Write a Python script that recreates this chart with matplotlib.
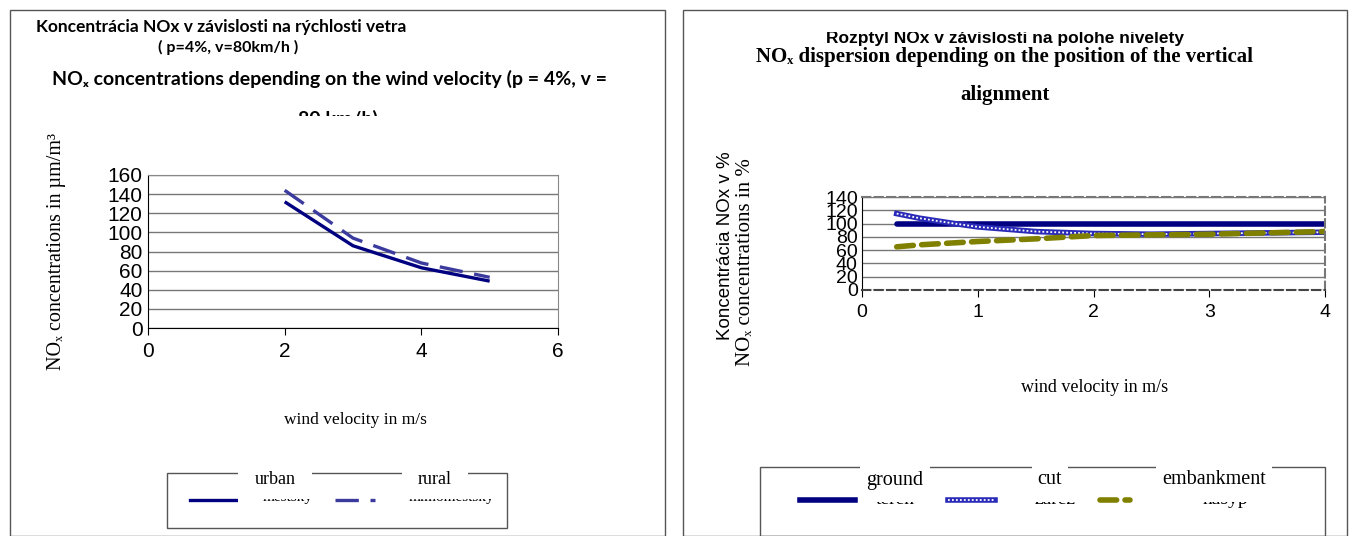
import matplotlib.pyplot as plt
from matplotlib.patches import Rectangle
from matplotlib.lines import Line2D
import matplotlib.transforms as mtrans

W, H = 1349, 536

# left chart: NOx vs wind velocity
wind = [2, 3, 4, 5]
urban = [132, 86, 63, 49]
rural = [144, 94, 68, 53]

# right chart: dispersion by vertical alignment
wind_r = [0.3, 0.5, 0.8, 1.0, 1.5, 2.0, 2.5, 3.0, 3.5, 4.0]
ground = [100, 100, 100, 100, 100, 100, 100, 100, 100, 100]
cut = [115, 108, 100, 95, 88, 85, 84, 85, 86, 87]
embankment = [65, 68, 71, 73, 77, 82, 83, 84, 86, 88]

SANS = ['Liberation Sans', 'DejaVu Sans']
SERIF = ['Liberation Serif', 'DejaVu Serif']
CAL = ['Lato', 'DejaVu Sans']
NAVY = '#000080'
CUT_BLUE = '#2a2ab8'
OLIVE = '#808000'


def fx(px):
    return px / W


def fy(py):
    return 1 - py / H


def box(x0, y0, x1, y1):
    return [fx(x0), fy(y1), fx(x1) - fx(x0), fy(y0) - fy(y1)]


def clip_below(txt, py):
    # keep only the part of a text lying below pixel row py
    txt.set_clip_box(mtrans.Bbox.from_extents(0, 0, W, fy(py) * H))
    txt.set_clip_on(True)


def clip_above(txt, py):
    # keep only the part of a text lying above pixel row py
    txt.set_clip_box(mtrans.Bbox.from_extents(0, fy(py) * H, W, H))
    txt.set_clip_on(True)


fig = plt.figure(figsize=(W / 100, H / 100), dpi=100)

# panel frames
for x0, x1 in [(10, 665), (683, 1347)]:
    fig.patches.append(Rectangle((fx(x0), 0), fx(x1) - fx(x0), fy(10), transform=fig.transFigure,
                                 fill=False, ec='#555555', lw=1))


def style_axes(ax, yticks, xticks, size, dashed_frame=False):
    ax.set_yticks(yticks)
    ax.set_xticks(xticks)
    ax.yaxis.grid(True, color='#777777', lw=1)
    ax.set_axisbelow(True)
    for lab in ax.get_xticklabels() + ax.get_yticklabels():
        lab.set_family(SANS)
        lab.set_fontsize(size)
    ax.tick_params(axis='y', length=0, pad=4)
    ax.tick_params(axis='x', length=5, direction='out', color='black', pad=5)
    ax.spines['left'].set_color('black')
    ax.spines['bottom'].set_color('black')
    if dashed_frame:
        for s in ['top', 'right', 'bottom']:
            ax.spines[s].set_linestyle((0, (4, 2)))
            ax.spines[s].set_color('#777777')
            ax.spines[s].set_linewidth(1.5)
        ax.spines['bottom'].set_color('#444444')
    else:
        ax.spines['top'].set_color('#888888')
        ax.spines['right'].set_color('#888888')


# ---------------- left chart ----------------
axl = fig.add_axes(box(148, 175, 558, 328))
axl.plot(wind, urban, color=NAVY, lw=2.4, solid_capstyle='butt')
axl.plot(wind, rural, color='#3b3b9e', lw=2.4, dashes=(7, 3.5))
axl.set_xlim(0, 6)
axl.set_ylim(0, 160)
style_axes(axl, range(0, 161, 20), [0, 2, 4, 6], 15)

fig.text(fx(36), fy(27), 'Koncentrácia NOx v závislosti na rýchlosti vetra', family=CAL,
         weight='bold', fontsize=12.5, va='center')
fig.text(fx(228), fy(47), '( p=4%, v=80km/h )', family=CAL, weight='bold', fontsize=11.5,
         va='center', ha='center')
fig.text(fx(52), fy(79), 'NOₓ concentrations depending on the wind velocity (p = 4%, v =',
         family=CAL, weight='bold', fontsize=14, va='center')
t = fig.text(fx(338), fy(119), '80 km/h)', family=CAL, weight='bold', fontsize=14,
             va='center', ha='center')
clip_above(t, 116)

fig.text(fx(57), fy(252), 'NOₓ concentrations in µm/m³', family=SERIF, fontsize=14.5,
         rotation=90, ha='center', va='center')
fig.text(fx(355), fy(420), 'wind velocity in m/s', family=SERIF, fontsize=12.5, ha='center', va='center')

# left legend
fig.patches.append(Rectangle((fx(167), fy(528)), fx(507) - fx(167), fy(473) - fy(528),
                             transform=fig.transFigure, fill=False, ec='#555555', lw=1))
for lx, lab in [(275, 'urban'), (435, 'rural')]:
    fig.text(fx(lx), fy(480), lab, family=SERIF, fontsize=13, ha='center', va='center',
             bbox=dict(fc='white', ec='none', boxstyle='square,pad=0.9'))
for lx, lab in [(288, 'mestský'), (452, 'mimomestský')]:
    t = fig.text(fx(lx), fy(497), lab, family=SERIF, fontsize=11, ha='center', va='center')
    clip_below(t, 499)
fig.lines.append(Line2D([fx(190), fx(237)], [fy(500), fy(500)], transform=fig.transFigure,
                        color=NAVY, lw=2.4))
fig.lines.append(Line2D([fx(335), fx(375)], [fy(500), fy(500)], transform=fig.transFigure,
                        color='#3b3b9e', lw=2.4, dashes=(7, 3.5)))

# ---------------- right chart ----------------
axr = fig.add_axes(box(862, 197, 1325, 290))
axr.plot(wind_r, ground, color=NAVY, lw=4, solid_capstyle='round')
axr.plot(wind_r, cut, color=CUT_BLUE, lw=4)
axr.plot(wind_r, cut, color='white', lw=1.3, dashes=(1, 1.2))
axr.plot(wind_r, embankment, color=OLIVE, lw=4, dashes=(3, 1.5), dash_capstyle='round')
axr.set_xlim(0, 4)
axr.set_ylim(0, 140)
style_axes(axr, range(0, 141, 20), [0, 1, 2, 3, 4], 14, dashed_frame=True)
axr.tick_params(axis='y', pad=3)

t = fig.text(fx(1005), fy(39), 'Rozptyl NOx v závislosti na polohe nivelety', family=SANS,
             weight='bold', fontsize=12.5, ha='center', va='center')
clip_below(t, 32)
fig.text(fx(1005), fy(57), 'NOₓ dispersion depending on the position of the vertical',
         family=SERIF, weight='bold', fontsize=15, ha='center', va='center')
fig.text(fx(1005), fy(95), 'alignment', family=SERIF, weight='bold', fontsize=15,
         ha='center', va='center')

fig.text(fx(726), fy(246), 'Koncentrácia NOx v %', family=SANS, fontsize=13.5, rotation=90,
         ha='center', va='center')
fig.text(fx(745), fy(262), 'NOₓ concentrations in %', family=SERIF, fontsize=15, rotation=90,
         ha='center', va='center')
fig.text(fx(1095), fy(387), 'wind velocity in m/s', family=SERIF, fontsize=13, ha='center', va='center')

# right legend
fig.patches.append(Rectangle((fx(760), fy(536)), fx(1325) - fx(760), fy(467) - fy(536),
                             transform=fig.transFigure, fill=False, ec='#555555', lw=1))
for lx, lab in [(895, 'ground'), (1050, 'cut'), (1214, 'embankment')]:
    fig.text(fx(lx), fy(480), lab, family=SERIF, fontsize=14.5, ha='center', va='center',
             bbox=dict(fc='white', ec='none', boxstyle='square,pad=0.3'))
for lx, lab in [(895, 'terén'), (1055, 'zárez'), (1225, 'násyp')]:
    t = fig.text(fx(lx), fy(500), lab, family=SERIF, fontsize=14, ha='center', va='center')
    clip_below(t, 502)
fig.lines.append(Line2D([fx(800), fx(855)], [fy(500), fy(500)], transform=fig.transFigure,
                        color=NAVY, lw=4))
fig.lines.append(Line2D([fx(948), fx(995)], [fy(500), fy(500)], transform=fig.transFigure,
                        color=CUT_BLUE, lw=4))
fig.lines.append(Line2D([fx(948), fx(995)], [fy(500), fy(500)], transform=fig.transFigure,
                        color='white', lw=1.3, dashes=(1, 1.2)))
fig.lines.append(Line2D([fx(1100), fx(1130)], [fy(500), fy(500)], transform=fig.transFigure,
                        color=OLIVE, lw=4, dashes=(3, 1.5), dash_capstyle='round'))

fig.savefig('out.png', dpi=100)
